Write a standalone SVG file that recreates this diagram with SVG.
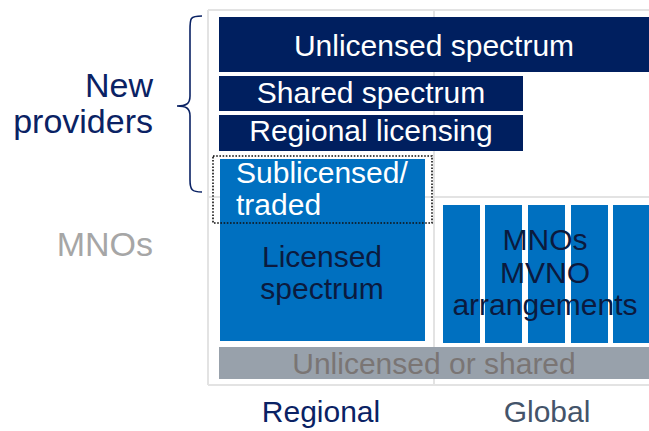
<svg xmlns="http://www.w3.org/2000/svg" width="649" height="431" viewBox="0 0 649 431">
  <style>
    text { font-family: "Liberation Sans", Arial, sans-serif; font-size: 30px; }
    .row-label { font-size: 34px; }
    .grid { stroke: #e3e3e3; stroke-width: 2; fill: none; }
    .navy { fill: #001f5f; }
    .blue { fill: #0070c0; }
    .white { fill: #ffffff; }
    .dark { fill: #0b1a3e; }
    .label-navy { fill: #0a2264; }
    .label-gray { fill: #a6a6a6; }
  </style>

  <!-- frame and grid -->
  <g id="grid">
    <line class="grid" x1="208" y1="10" x2="649" y2="10"/>
    <line class="grid" x1="208" y1="10" x2="208" y2="385"/>
    <line class="grid" x1="208" y1="385" x2="649" y2="385"/>
    <line class="grid" x1="434" y1="10" x2="434" y2="385"/>
    <line class="grid" x1="208" y1="197" x2="649" y2="197"/>
  </g>

  <!-- row labels -->
  <g id="new-providers">
    <text class="label-navy row-label" x="153" y="97" text-anchor="end">New</text>
    <text class="label-navy row-label" x="153" y="133" text-anchor="end">providers</text>
    <path d="M202,16 C190,16 190,18 190,30 L190,96 C190,104 186,106 177,106 C186,106 190,108 190,116 L190,180 C190,190 192,192 202,192" fill="none" stroke="#0a2264" stroke-width="1.6"/>
  </g>
  <g id="mnos-label">
    <text class="label-gray row-label" x="153" y="256" text-anchor="end">MNOs</text>
  </g>

  <!-- new provider bands -->
  <g id="unlicensed-spectrum">
    <rect class="navy" x="219" y="17" width="430" height="55"/>
    <text class="white" x="434" y="56" text-anchor="middle">Unlicensed spectrum</text>
  </g>
  <g id="shared-spectrum">
    <rect class="navy" x="219" y="76" width="304" height="35"/>
    <text class="white" x="371" y="103" text-anchor="middle">Shared spectrum</text>
  </g>
  <g id="regional-licensing">
    <rect class="navy" x="219" y="115" width="304" height="36"/>
    <text class="white" x="371" y="141" text-anchor="middle">Regional licensing</text>
  </g>

  <!-- regional licensed block -->
  <g id="licensed-spectrum">
    <rect class="blue" x="220" y="159" width="205" height="182"/>
    <text class="dark" x="322" y="267" text-anchor="middle">Licensed</text>
    <text class="dark" x="322" y="299" text-anchor="middle">spectrum</text>
  </g>
  <g id="sublicensed">
    <rect x="213" y="156" width="219" height="67" fill="none" stroke="#111111" stroke-width="1.6" stroke-dasharray="1.6 1.6"/>
    <text class="white" x="236" y="183">Sublicensed/</text>
    <text class="white" x="236" y="215">traded</text>
  </g>

  <!-- global MNO / MVNO columns -->
  <g id="mvno-arrangements">
    <rect class="blue" x="443" y="205" width="37" height="138"/>
    <rect class="blue" x="485" y="205" width="37" height="138"/>
    <rect class="blue" x="528" y="205" width="37" height="138"/>
    <rect class="blue" x="571" y="205" width="37" height="138"/>
    <rect class="blue" x="613" y="205" width="36" height="138"/>
    <text class="dark" x="545" y="250" text-anchor="middle">MNOs</text>
    <text class="dark" x="545" y="283" text-anchor="middle">MVNO</text>
    <text class="dark" x="545" y="315" text-anchor="middle">arrangements</text>
  </g>

  <!-- base band -->
  <g id="unlicensed-or-shared">
    <rect x="219" y="347" width="430" height="32" fill="#98a1ab"/>
    <text x="434" y="374" text-anchor="middle" fill="#7a7574">Unlicensed or shared</text>
  </g>

  <!-- column labels -->
  <g id="axis-labels">
    <text class="label-navy" x="321" y="422" text-anchor="middle">Regional</text>
    <text x="547" y="422" text-anchor="middle" fill="#44546a">Global</text>
  </g>
</svg>
